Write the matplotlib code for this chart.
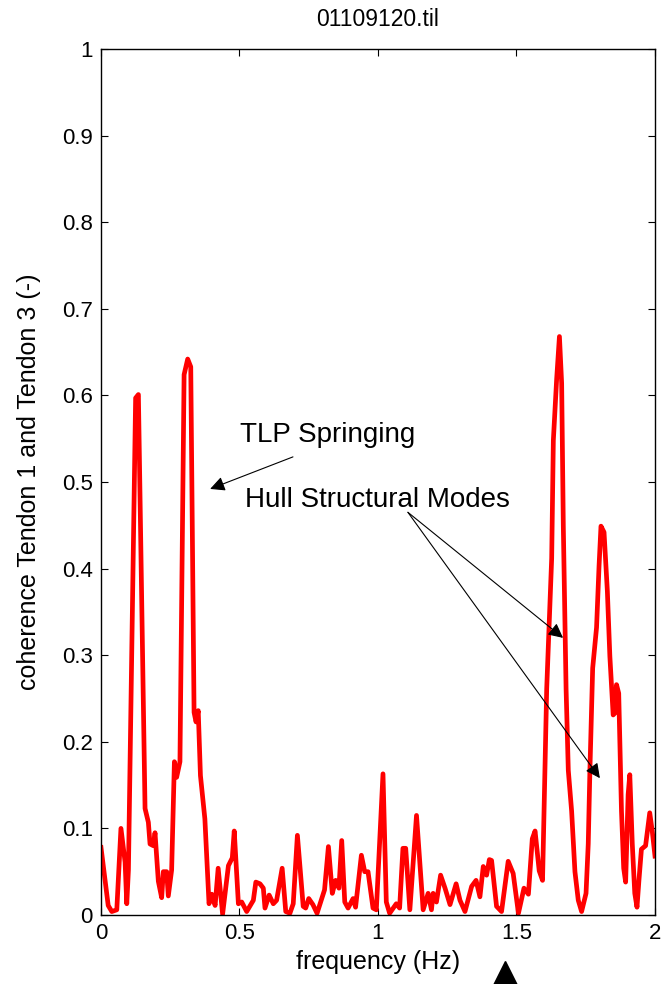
import numpy as np
import matplotlib
matplotlib.use("Agg")
import matplotlib.pyplot as plt

plt.rcParams['font.family'] = ['Liberation Sans', 'DejaVu Sans']

# coherence curve
freq = [0.000, 0.026, 0.039, 0.057, 0.072, 0.087, 0.093, 0.099, 0.125, 0.135,
        0.159, 0.171, 0.177, 0.189, 0.195, 0.207, 0.219, 0.225, 0.237, 0.243,
        0.255, 0.265, 0.273, 0.285, 0.300, 0.313, 0.324, 0.336, 0.343, 0.351,
        0.359, 0.375, 0.390, 0.400, 0.412, 0.423, 0.439, 0.460, 0.474, 0.481,
        0.496, 0.508, 0.526, 0.550, 0.559, 0.574, 0.586, 0.592, 0.607, 0.622,
        0.634, 0.654, 0.667, 0.682, 0.694, 0.709, 0.730, 0.739, 0.750, 0.765,
        0.780, 0.807, 0.821, 0.835, 0.847, 0.859, 0.869, 0.880, 0.892, 0.910,
        0.919, 0.940, 0.952, 0.964, 0.982, 0.994, 1.018, 1.030, 1.042, 1.066,
        1.078, 1.090, 1.100, 1.115, 1.139, 1.163, 1.181, 1.193, 1.199, 1.211,
        1.226, 1.242, 1.260, 1.282, 1.296, 1.314, 1.338, 1.354, 1.368, 1.380,
        1.392, 1.402, 1.410, 1.428, 1.446, 1.470, 1.488, 1.507, 1.527, 1.543,
        1.557, 1.567, 1.582, 1.594, 1.609, 1.627, 1.633, 1.645, 1.655, 1.663,
        1.669, 1.679, 1.687, 1.699, 1.711, 1.723, 1.735, 1.751, 1.759, 1.765,
        1.775, 1.789, 1.798, 1.805, 1.816, 1.828, 1.837, 1.849, 1.855, 1.861,
        1.869, 1.879, 1.887, 1.894, 1.903, 1.909, 1.918, 1.927, 1.935, 1.942,
        1.951, 1.966, 1.981, 1.990, 2.000]
coh = [0.078, 0.011, 0.004, 0.006, 0.100, 0.061, 0.013, 0.052, 0.597, 0.601,
       0.123, 0.107, 0.082, 0.080, 0.095, 0.039, 0.020, 0.050, 0.050, 0.022,
       0.052, 0.177, 0.159, 0.177, 0.624, 0.642, 0.633, 0.234, 0.223, 0.236,
       0.161, 0.111, 0.013, 0.024, 0.011, 0.054, 0.001, 0.057, 0.066, 0.097,
       0.013, 0.015, 0.004, 0.017, 0.038, 0.036, 0.031, 0.008, 0.023, 0.013,
       0.017, 0.054, 0.004, 0.002, 0.013, 0.092, 0.010, 0.008, 0.019, 0.012,
       0.002, 0.029, 0.079, 0.025, 0.040, 0.031, 0.086, 0.015, 0.008, 0.019,
       0.009, 0.069, 0.050, 0.050, 0.008, 0.006, 0.163, 0.015, 0.002, 0.013,
       0.008, 0.077, 0.077, 0.006, 0.115, 0.006, 0.025, 0.006, 0.025, 0.015,
       0.046, 0.031, 0.012, 0.036, 0.017, 0.004, 0.033, 0.040, 0.021, 0.056,
       0.046, 0.064, 0.063, 0.010, 0.004, 0.062, 0.048, 0.002, 0.031, 0.024,
       0.088, 0.097, 0.051, 0.040, 0.261, 0.412, 0.548, 0.619, 0.668, 0.614,
       0.449, 0.261, 0.167, 0.120, 0.050, 0.017, 0.004, 0.025, 0.082, 0.167,
       0.285, 0.332, 0.403, 0.449, 0.442, 0.374, 0.299, 0.231, 0.233, 0.266,
       0.256, 0.120, 0.054, 0.038, 0.139, 0.162, 0.082, 0.025, 0.009, 0.040,
       0.076, 0.080, 0.118, 0.097, 0.068]

xticks = [0, 0.5, 1, 1.5, 2]
yticks = [0, 0.1, 0.2, 0.3, 0.4, 0.5, 0.6, 0.7, 0.8, 0.9, 1]
marker_freq = 1.46  # black triangle under the axis

fig = plt.figure(figsize=(6.61, 9.84), dpi=100)
ax = fig.add_axes([101/661, 69/984, 554/661, 866/984])

ax.plot(freq, coh, color='red', lw=3.4, solid_joinstyle='round')
ax.set_xlim(0, 2)
ax.set_ylim(0, 1)
ax.set_xticks(xticks)
ax.set_xticklabels(['0', '0.5', '1', '1.5', '2'])
ax.set_yticks(yticks)
ax.set_yticklabels(['0', '0.1', '0.2', '0.3', '0.4', '0.5', '0.6', '0.7', '0.8', '0.9', '1'])
ax.tick_params(direction='in', top=True, right=True, length=5, width=0.8, labelsize=16)
ax.tick_params(axis='x', pad=6)
ax.tick_params(axis='y', pad=6)
for s in ax.spines.values():
    s.set_linewidth(1)

ax.set_title('01109120.til', fontsize=16.5, pad=16.5)
ax.set_xlabel('frequency (Hz)', fontsize=18, labelpad=4)
ax.set_ylabel('coherence Tendon 1 and Tendon 3 (-)', fontsize=18, labelpad=15)

# annotations
arr = dict(arrowstyle='-|>', color='k', lw=0.8, mutation_scale=22, shrinkA=0, shrinkB=0)
ax.text(0.502, 0.546, 'TLP Springing', fontsize=20, va='baseline')
ax.annotate('', xy=(0.394, 0.492), xytext=(0.693, 0.529), arrowprops=arr)
ax.text(0.520, 0.471, 'Hull Structural Modes', fontsize=20, va='baseline')
ax.annotate('', xy=(1.668, 0.320), xytext=(1.108, 0.465), arrowprops=arr)
ax.annotate('', xy=(1.801, 0.158), xytext=(1.108, 0.465), arrowprops=arr)

ax.plot([marker_freq], [-0.067], marker='^', ms=17, color='k',
        transform=ax.get_xaxis_transform(), clip_on=False)

fig.savefig('out.png', dpi=100)
